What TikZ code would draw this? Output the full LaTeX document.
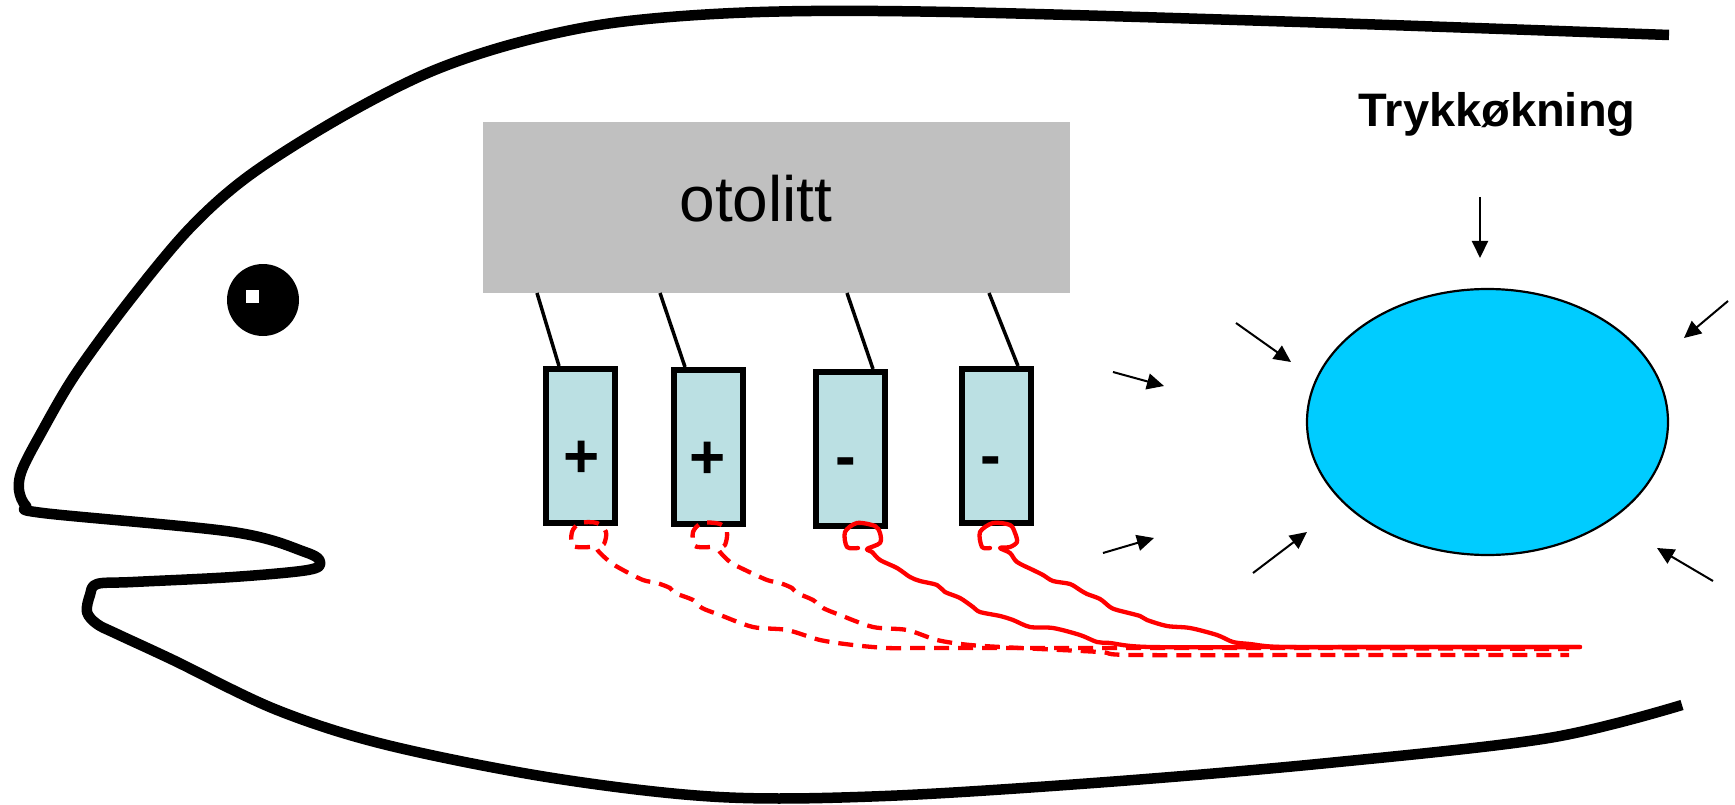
\documentclass[tikz,border=0pt]{standalone}
\usepackage{fontspec}
\setmainfont{Liberation Sans}
\usetikzlibrary{arrows.meta,shapes.geometric,calc}
\definecolor{otogray}{RGB}{192,192,192}
\definecolor{cellblue}{RGB}{187,224,227}
\definecolor{bubble}{RGB}{0,204,255}
\begin{document}
\begin{tikzpicture}[x=1pt,y=-1pt,
  body/.style={line width=10.5pt,line join=round},
  cell/.style={draw,line width=6pt,fill=cellblue,minimum width=69pt,minimum height=154pt,inner sep=0pt},
  hair/.style={line width=3.5pt},
  charge/.style={anchor=base,font=\bfseries\fontsize{62}{62}\selectfont},
  press/.style={line width=2pt,-{Triangle[length=17pt,width=16pt]}},
  nerve/.style={red,line width=4.3pt,line join=round,line cap=round},
  nervedash/.style={red,line width=4.3pt,line join=round,dash pattern=on 15pt off 9pt}]
\useasboundingbox (0,0) rectangle (1735,805);

% fish body outline
\draw[body] plot[smooth,tension=0.55] coordinates {
  (1669,35) (1300,22) (950,12) (760,12) (620,22) (520,42) (430,72)
  (340,118) (250,175) (190,228) (130,300) (75,375) (40,435) (22,470)
  (19,490) (26,506) (43,513) (233,532) (305,552) (320,562) (308,570)
  (233,577) (133,582) (97,584) (90,595) (87,612) (97,624) (117,634)
  (173,660) (277,710) (387,745) (553,778) (719,797) (885,796)
  (1107,782) (1328,763) (1549,738) (1682,705)};

% eye
\node[circle,fill=black,minimum size=72pt,inner sep=0pt] (eye) at (263,300) {};
\fill[white] (246,290) rectangle (259,303);

% otolith
\node[fill=otogray,minimum width=587pt,minimum height=171pt,inner sep=0pt] (oto) at (776.5,207.5) {};
\node[anchor=base,font=\fontsize{64}{64}\selectfont] (otolbl) at (756,222) {otolitt};

% hair cells
\node[cell] (b1) at (580.5,446) {};
\node[cell] (b2) at (708,447) {};
\node[cell] (b3) at (850.5,449) {};
\node[cell] (b4) at (996.5,446) {};
\node[charge] (c1) at (582,477) {+};
\node[charge] (c2) at (708,478) {+};
\node[charge] (c3) at (846,477) {-};
\node[charge] (c4) at (991,476) {-};

% hair bundles
\coordinate (h1) at (537,293); \coordinate (f1) at (559,366);
\coordinate (h2) at (660,293); \coordinate (f2) at (685,367);
\coordinate (h3) at (847,293); \coordinate (f3) at (873,369);
\coordinate (h4) at (989,293); \coordinate (f4) at (1018,366);
\draw[hair] (h1) -- (f1);
\draw[hair] (h2) -- (f2);
\draw[hair] (h3) -- (f3);
\draw[hair] (h4) -- (f4);

% nerve signals
\draw[nervedash] plot[smooth,tension=0.5] coordinates {
  (590,547) (573,546) (572,532) (580,523) (597,523) (606,532) (604,544)
  (597,549) (610,562) (623,570) (643,580) (657,583) (670,588) (675,593)
  (693,600) (702,608) (720,615) (753,627) (787,630) (820,640) (853,645)
  (887,648) (920,648) (1020,648) (1300,648) (1569,649)};
\draw[nervedash] plot[smooth,tension=0.5] coordinates {
  (710,547) (695,546) (693,532) (702,523) (720,524) (727,532) (725,545)
  (718,549) (730,562) (743,569) (767,580) (780,583) (792,588) (797,593)
  (813,600) (823,608) (840,615) (873,627) (907,630) (937,640) (970,645)
  (1020,648) (1100,652) (1133,655) (1350,655) (1569,655)};
\draw[nerve] plot[smooth,tension=0.5] coordinates {
  (858,548) (847,547) (845,532) (857,523) (875,526) (880,533) (880,543)
  (867,549) (872,552) (880,560) (897,568) (910,577) (920,581) (937,585)
  (945,592) (960,598) (973,607) (980,612) (1000,616) (1013,620) (1030,627)
  (1053,628) (1080,635) (1097,642) (1110,643) (1150,647) (1300,647) (1580,647)};
\draw[nerve] plot[smooth,tension=0.5] coordinates {
  (990,548) (982,547) (980,532) (993,523) (1010,525) (1015,533) (1017,542)
  (1010,547) (1000,548) (1010,553) (1017,562) (1033,570) (1043,575)
  (1053,581) (1070,584) (1080,590) (1087,594) (1100,599) (1110,607)
  (1117,610) (1140,616) (1147,620) (1167,626) (1190,628) (1217,635)
  (1233,642) (1250,644) (1283,647) (1400,647) (1580,647)};

% swim bladder
\node[ellipse,draw,line width=2.2pt,fill=bubble,minimum width=361pt,minimum height=266pt,inner sep=0pt] (bladder) at (1487.5,422) {};
\node[anchor=base,font=\bfseries\fontsize{47}{47}\selectfont] (title) at (1497,127) {Trykkøkning};

% pressure arrows
\coordinate (p1s) at (1480,197); \coordinate (p1e) at (1480,258);
\coordinate (p2s) at (1236,323); \coordinate (p2e) at (1291,362);
\coordinate (p3s) at (1113,372); \coordinate (p3e) at (1164,386);
\coordinate (p4s) at (1103,553); \coordinate (p4e) at (1154,538);
\coordinate (p5s) at (1253,573); \coordinate (p5e) at (1307,532);
\coordinate (p6s) at (1728,301); \coordinate (p6e) at (1684,338);
\coordinate (p7s) at (1713,581); \coordinate (p7e) at (1657,548);
\foreach \i in {1,...,7} {\draw[press] (p\i s) -- (p\i e);}
\end{tikzpicture}
\end{document}
